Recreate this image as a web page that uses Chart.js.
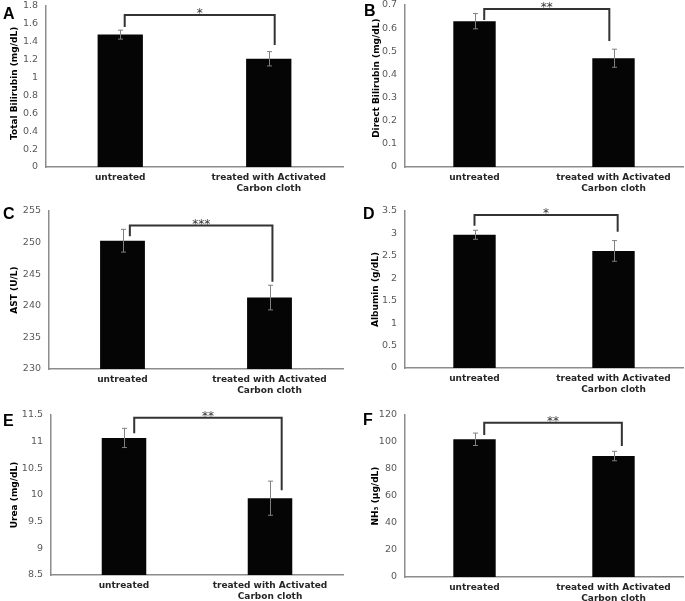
<!DOCTYPE html>
<html>
<head>
<meta charset="UTF-8">
<title>Serum markers</title>
<script src="https://cdn.jsdelivr.net/npm/chart.js"></script>
<style>
  body { margin: 0; background: #fff; }
  #wrap { position: relative; width: 685px; height: 601px; overflow: hidden; }
  canvas { position: absolute; }
  .tag { position: absolute; font: bold 16px "Liberation Sans", Arial, sans-serif; line-height: 16px; color: #000; }
</style>
</head>
<body>
<div id="wrap"></div>

<script>
  // values
  const panels = ['A', 'B', 'C', 'D', 'E', 'F'];
  const categories = ['untreated', ['treated with Activated', 'Carbon cloth']];
  const yTitles = ['Total Bilirubin (mg/dL)', 'Direct Bilirubin (mg/dL)', 'AST (U/L)',
                   'Albumin (g/dL)', 'Urea (mg/dL)', 'NH\u2083 (\u00b5g/dL)'];
  const means = [[1.48, 1.21], [0.63, 0.47], [250.3, 241.3], [2.97, 2.61], [11.07, 9.94], [102, 89.6]];
  const errors = [[0.05, 0.08], [0.033, 0.039], [1.8, 1.95], [0.10, 0.23], [0.18, 0.32], [4.6, 3.5]];
  const yMin = [0, 0, 230, 0, 8.5, 0];
  const yMax = [1.8, 0.7, 255, 3.5, 11.5, 120];
  const yStep = [0.2, 0.1, 5, 0.5, 0.5, 20];
  const stars = ['*', '**', '***', '*', '**', '**'];
  // significance bracket: top value, leg end values, x in category units
  const bracketTop = [1.70, 0.683, 252.7, 3.41, 11.45, 114.3];
  const bracketEnds = [[1.565, 1.364], [0.635, 0.544], [251.0, 243.8], [3.17, 3.04], [11.16, 10.09], [105.2, 97]];
  const bracketAt = [[0.03, 1.04], [0.07, 0.97], [0.05, 1.02], [0, 1.03], [0.07, 1.08], [0.07, 1.06]];

  // layout of each panel (pixels)
  const frames = [
    { left: 0,   top: 0,   w: 345, h: 200, plotL: 46, plotT: 6,  plotB: 167, titleX: 15, shift: 2, tag: [3, 6] },
    { left: 340, top: 0,   w: 345, h: 200, plotL: 65, plotT: 5,  plotB: 167, titleX: 37, shift: 5, tag: [364, 3] },
    { left: 0,   top: 200, w: 345, h: 200, plotL: 49, plotT: 11, plotB: 169, titleX: 15, shift: 0, tag: [3, 206] },
    { left: 340, top: 200, w: 345, h: 200, plotL: 65, plotT: 11, plotB: 168, titleX: 36, shift: 0, tag: [363, 206] },
    { left: 0,   top: 400, w: 345, h: 201, plotL: 51, plotT: 15, plotB: 175, titleX: 15, shift: 0, tag: [3, 413] },
    { left: 340, top: 400, w: 345, h: 201, plotL: 65, plotT: 15, plotB: 177, titleX: 36, shift: 0, tag: [363, 412] }
  ];

  Chart.defaults.font.family = '"DejaVu Sans", Verdana, sans-serif';

  // error bars + significance bracket
  const extras = {
    id: 'extras',
    afterDatasetsDraw(chart, args, opts) {
      const ctx = chart.ctx, x = chart.scales.x, y = chart.scales.y;
      const meta = chart.getDatasetMeta(0);
      const vals = chart.data.datasets[0].data;
      ctx.save();
      ctx.strokeStyle = '#808080';
      ctx.lineWidth = 1;
      opts.err.forEach((e, i) => {
        const cx = Math.round(meta.data[i].x) + 0.5;
        const hi = y.getPixelForValue(vals[i] + e), lo = y.getPixelForValue(vals[i] - e);
        ctx.beginPath();
        ctx.moveTo(cx, hi); ctx.lineTo(cx, lo);
        ctx.moveTo(cx - 2.5, hi); ctx.lineTo(cx + 2.5, hi);
        ctx.moveTo(cx - 2.5, lo); ctx.lineTo(cx + 2.5, lo);
        ctx.stroke();
      });
      const xl = x.getPixelForValue(opts.at[0]), xr = x.getPixelForValue(opts.at[1]);
      const yt = y.getPixelForValue(opts.top);
      ctx.strokeStyle = '#333';
      ctx.lineWidth = 2;
      ctx.beginPath();
      ctx.moveTo(xl, y.getPixelForValue(opts.ends[0]));
      ctx.lineTo(xl, yt);
      ctx.lineTo(xr, yt);
      ctx.lineTo(xr, y.getPixelForValue(opts.ends[1]));
      ctx.stroke();
      ctx.fillStyle = '#333';
      ctx.font = '12px "DejaVu Sans"';
      ctx.textAlign = 'center';
      ctx.textBaseline = 'alphabetic';
      ctx.fillText(opts.stars, (xl + xr) / 2, yt + 2);
      ctx.restore();
    }
  };

  const wrap = document.getElementById('wrap');

  panels.forEach((p, k) => {
    const f = frames[k];
    const cv = document.createElement('canvas');
    cv.width = f.w; cv.height = f.h;
    cv.style.left = f.left + 'px'; cv.style.top = f.top + 'px';
    wrap.appendChild(cv);

    const tag = document.createElement('div');
    tag.className = 'tag';
    tag.textContent = p;
    tag.style.left = f.tag[0] + 'px'; tag.style.top = f.tag[1] + 'px';
    wrap.appendChild(tag);

    new Chart(cv.getContext('2d'), {
      type: 'bar',
      data: {
        labels: categories,
        datasets: [{
          data: means[k],
          backgroundColor: '#050505',
          borderWidth: 0,
          barPercentage: 1,
          categoryPercentage: 0.305
        }]
      },
      options: {
        responsive: false,
        animation: false,
        devicePixelRatio: 1,
        layout: { padding: { top: f.plotT, right: 2, left: 0, bottom: 0 } },
        plugins: {
          legend: { display: false },
          tooltip: { enabled: false },
          extras: { err: errors[k], top: bracketTop[k], ends: bracketEnds[k], at: bracketAt[k], stars: stars[k] }
        },
        scales: {
          x: {
            grid: { display: false, drawTicks: false },
            border: { color: '#8c8c8c', width: 1.5 },
            ticks: { color: '#262626', font: { size: 9, weight: 'bold' }, padding: 5.6, maxRotation: 0, minRotation: 0 },
            afterFit(s) { s.height = f.h - f.plotB; }
          },
          y: {
            min: yMin[k],
            max: yMax[k],
            grid: { display: false, drawTicks: false },
            border: { color: '#8c8c8c', width: 1.5 },
            ticks: {
              stepSize: yStep[k],
              color: '#595959',
              font: { size: 9.5 },
              padding: 8,
              callback: v => String(Math.round(v * 1000) / 1000)
            },
            title: {
              display: true,
              text: ' '.repeat(f.shift) + yTitles[k],
              color: '#000',
              font: { size: 9, weight: 'bold' },
              padding: { top: f.titleX - 5.4, bottom: 0 }
            },
            afterFit(s) {
              s.width = f.plotL;
              s.paddingTop = 0;
              s.paddingBottom = 0;
            }
          }
        }
      },
      plugins: [extras]
    });
  });
</script>
</body>
</html>
